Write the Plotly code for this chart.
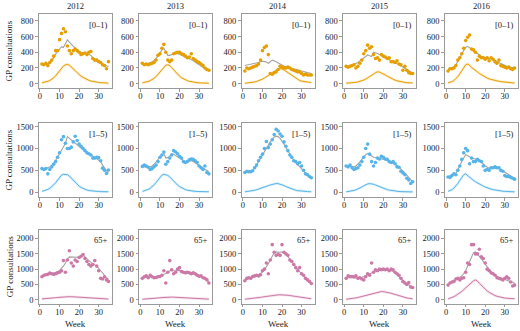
import plotly.graph_objects as go

weeks = list(range(1, 36))
years = ["2012", "2013", "2014", "2015", "2016"]
age_labels = ["[0–1)", "[1–5)", "65+"]
x_ticks = [0, 10, 20, 30]
y_ticks_a = [0, 200, 400, 600, 800]
y_ticks_b = [0, 500, 1000, 1500]
y_ticks_c = [0, 500, 1000, 1500, 2000]

# ---- age [0-1) ----
obs_a_2012 = [250,240,260,230,270,300,350,420,420,560,640,700,660,480,420,380,420,440,420,400,370,380,390,370,400,410,320,300,300,280,270,240,230,190,280]
fit_a_2012 = [235,240,245,255,265,290,330,380,420,440,470,460,520,560,530,500,470,445,425,405,395,390,385,380,375,360,330,310,290,275,260,245,235,225,220]
comp_a_2012 = [10,15,20,30,40,55,75,100,130,160,195,225,240,245,235,215,190,165,140,115,95,80,65,52,42,34,27,22,18,15,12,10,9,8,7]

obs_a_2013 = [260,240,250,240,250,260,270,300,360,380,450,500,400,300,280,300,380,390,400,400,380,370,350,330,340,380,320,300,280,270,250,230,200,180,170]
fit_a_2013 = [250,250,255,260,265,275,295,320,350,390,430,450,400,360,360,370,380,390,385,375,365,355,345,335,325,310,295,275,255,240,225,210,195,185,175]
comp_a_2013 = [10,14,20,28,38,50,68,90,118,150,185,215,235,240,230,205,175,145,120,95,75,60,48,38,30,24,19,15,12,10,8,7,6,5,5]

obs_a_2014 = [160,200,190,200,210,220,230,250,300,420,460,480,370,130,120,140,150,180,220,210,200,200,210,200,180,170,160,150,150,130,110,120,110,110,110]
fit_a_2014 = [230,235,240,245,250,255,260,270,280,285,280,275,260,285,300,290,275,260,245,230,220,210,205,200,195,190,180,175,170,160,150,145,140,135,130]
comp_a_2014 = [5,7,9,12,16,21,28,36,46,58,72,88,105,122,140,156,170,182,190,188,175,158,138,118,98,80,64,50,40,32,26,22,19,17,15]

obs_a_2015 = [220,210,220,230,240,200,220,260,300,380,420,490,450,470,370,320,330,300,370,350,340,320,330,280,280,270,290,250,240,170,220,170,140,130,130]
fit_a_2015 = [215,220,225,235,245,255,270,290,310,330,350,365,355,345,400,395,385,370,355,340,330,320,305,295,285,270,255,240,225,210,190,170,155,145,135]
comp_a_2015 = [5,6,8,10,13,17,22,28,36,46,58,72,88,105,122,140,150,148,138,125,110,95,80,66,54,44,36,29,24,20,16,13,11,9,8]

obs_a_2016 = [160,190,190,200,230,300,330,380,450,550,590,620,440,430,400,300,350,330,330,310,330,290,330,310,280,260,300,230,220,210,200,210,190,180,200]
fit_a_2016 = [180,190,200,215,240,280,330,380,430,460,475,460,440,420,400,380,360,350,340,330,325,320,315,305,295,285,270,255,240,230,220,215,210,205,200]
comp_a_2016 = [10,15,25,40,60,90,125,165,205,240,250,235,205,190,170,150,130,112,96,82,70,60,52,45,39,34,30,26,22,19,16,14,12,10,9]

# ---- age [1-5) ----
obs_b_2012 = [540,520,540,420,520,580,640,700,800,900,1200,1270,1120,1000,1000,1030,1150,1280,1180,1100,1050,1000,950,900,880,850,780,780,800,790,720,550,500,430,510]
fit_b_2012 = [520,530,540,555,575,610,660,730,800,880,960,1040,1120,1270,1230,1190,1150,1110,1080,1050,1010,980,950,920,890,860,830,800,770,740,700,620,550,490,450]
comp_b_2012 = [20,30,45,65,90,125,170,220,280,340,390,410,410,400,370,320,270,220,180,140,110,85,65,50,40,32,26,22,19,17,15,14,13,12,12]

obs_b_2013 = [590,620,600,570,520,540,580,620,700,800,850,920,640,700,780,850,950,920,880,820,780,700,680,700,740,760,750,720,680,600,560,520,600,450,420]
fit_b_2013 = [580,585,585,580,580,600,640,690,750,810,860,880,780,790,820,880,870,840,810,780,750,720,700,710,720,720,700,670,640,610,580,550,520,490,470]
comp_b_2013 = [20,30,45,65,90,125,170,220,280,340,390,410,400,385,350,300,250,205,165,130,100,78,60,47,37,30,25,21,18,16,14,13,12,11,11]

obs_b_2014 = [450,480,470,470,490,560,620,720,800,870,1000,1160,1020,1100,1200,1320,1440,1400,1330,1280,1150,1050,950,850,800,720,700,650,680,600,500,420,400,360,330]
fit_b_2014 = [450,460,470,485,510,560,620,700,780,860,940,1020,1090,1150,1210,1260,1280,1270,1230,1170,1100,1020,940,860,790,730,680,630,580,530,480,430,390,360,330]
comp_b_2014 = [10,14,20,27,35,45,57,70,85,100,117,135,152,168,182,193,200,198,188,172,152,130,110,90,73,58,46,37,30,25,21,18,16,14,12]

obs_b_2015 = [600,580,620,560,520,540,560,620,700,800,1000,1100,870,700,600,680,780,760,820,800,760,750,700,680,700,650,580,570,480,440,400,320,280,200,240]
fit_b_2015 = [600,595,590,585,580,600,640,690,750,810,860,880,860,830,800,790,785,780,775,765,750,730,710,690,665,640,610,575,535,490,440,385,330,280,240]
comp_b_2015 = [10,15,22,30,42,56,74,95,120,148,172,190,198,195,182,165,145,125,106,88,73,60,49,40,33,27,22,18,15,13,11,10,9,8,8]

obs_b_2016 = [350,340,380,420,400,500,600,750,900,1000,950,650,780,700,700,750,720,700,600,500,520,500,560,560,580,560,560,500,480,380,360,360,340,320,300]
fit_b_2016 = [360,370,385,400,430,500,600,700,790,860,840,800,780,770,760,740,720,690,650,600,570,550,550,555,560,555,540,510,480,450,420,390,365,345,330]
comp_b_2016 = [20,35,60,95,140,200,270,340,400,420,380,330,300,270,240,210,185,160,140,120,100,85,72,60,50,42,35,29,24,20,17,14,12,11,10]

# ---- age 65+ ----
obs_c_2012 = [750,800,820,830,870,850,830,850,880,900,950,1280,900,1300,1600,1200,1100,1300,1250,1380,1420,1480,1350,1250,1150,1100,1150,1280,1100,950,700,680,750,650,600]
fit_c_2012 = [780,800,820,840,850,860,870,890,920,960,1020,1100,1200,1330,1400,1400,1390,1380,1390,1410,1440,1450,1400,1330,1270,1220,1180,1150,1100,1030,950,860,780,720,680]
comp_c_2012 = [30,32,35,40,45,52,60,68,76,84,92,98,102,104,104,102,98,93,88,82,76,70,64,58,53,48,44,40,37,34,32,30,28,27,26]

obs_c_2013 = [700,750,780,720,800,750,720,730,750,760,800,950,550,900,1280,980,850,900,1000,1050,920,900,880,900,880,850,880,850,800,770,780,720,700,650,550]
fit_c_2013 = [720,730,740,745,750,750,750,755,760,770,790,830,860,900,950,960,950,940,950,960,940,920,900,890,880,870,860,850,830,800,770,730,690,640,600]
comp_c_2013 = [20,22,25,28,32,37,43,50,57,65,72,79,85,89,90,89,86,82,77,72,67,62,57,52,48,44,40,37,34,31,29,27,25,24,23]

obs_c_2014 = [620,700,720,700,760,780,800,780,820,950,1000,1200,850,1300,1800,1550,1450,1480,1450,1800,1550,1500,1450,1300,1250,1150,1050,950,1050,850,800,700,650,600,530]
fit_c_2014 = [650,670,690,710,730,750,780,820,860,910,980,1070,1180,1300,1430,1540,1560,1550,1550,1560,1540,1490,1420,1340,1250,1160,1070,990,910,840,770,700,640,590,550]
comp_c_2014 = [20,25,30,36,43,51,60,70,81,92,103,114,125,135,144,152,158,162,164,164,161,156,148,139,128,117,105,93,82,71,61,52,44,38,33]

obs_c_2015 = [700,780,760,760,750,780,700,720,680,650,750,850,800,1200,900,980,950,1000,980,1000,980,1000,950,1000,980,900,850,800,700,600,550,500,560,420,400]
fit_c_2015 = [720,725,725,720,715,710,705,710,730,760,790,820,860,900,930,950,965,975,980,985,985,980,970,950,920,880,830,770,700,630,570,520,480,450,430]
comp_c_2015 = [20,25,32,40,50,62,76,92,110,130,150,170,190,210,228,244,258,266,270,268,260,248,232,214,194,173,152,131,111,93,77,63,51,41,33]

obs_c_2016 = [480,550,580,600,680,700,650,700,720,900,1200,1150,1800,1800,1500,1500,1650,1400,1350,1200,1000,950,880,850,800,720,700,680,650,700,750,700,580,450,480]
fit_c_2016 = [500,530,570,610,650,690,730,780,850,950,1100,1250,1400,1540,1560,1500,1420,1330,1240,1150,1060,980,910,850,800,760,730,710,690,670,650,630,600,570,540]
comp_c_2016 = [30,50,75,105,140,180,225,275,330,390,450,510,570,620,650,610,540,470,400,340,290,245,205,170,140,115,95,80,68,58,50,44,40,37,35]

obs_rows = [
    [obs_a_2012, obs_a_2013, obs_a_2014, obs_a_2015, obs_a_2016],
    [obs_b_2012, obs_b_2013, obs_b_2014, obs_b_2015, obs_b_2016],
    [obs_c_2012, obs_c_2013, obs_c_2014, obs_c_2015, obs_c_2016],
]
fit_rows = [
    [fit_a_2012, fit_a_2013, fit_a_2014, fit_a_2015, fit_a_2016],
    [fit_b_2012, fit_b_2013, fit_b_2014, fit_b_2015, fit_b_2016],
    [fit_c_2012, fit_c_2013, fit_c_2014, fit_c_2015, fit_c_2016],
]
comp_rows = [
    [comp_a_2012, comp_a_2013, comp_a_2014, comp_a_2015, comp_a_2016],
    [comp_b_2012, comp_b_2013, comp_b_2014, comp_b_2015, comp_b_2016],
    [comp_c_2012, comp_c_2013, comp_c_2014, comp_c_2015, comp_c_2016],
]
y_ticks_rows = [y_ticks_a, y_ticks_b, y_ticks_c]

# ---- styling / layout geometry ----
W, H = 520, 331
row_colors = ["#E69F00", "#56B4E9", "#CC79A7"]
row_faint = ["rgba(230,159,0,0.22)", "rgba(86,180,233,0.22)", "rgba(204,121,167,0.22)"]
fit_color = "#a3a3a3"
box_color = "#9a9a9a"
font_family = "Liberation Serif, DejaVu Serif, serif"
text_color = "#222222"
fs = 8.5

col_left = [37.7, 138.3, 241.0, 342.5, 444.6]
panel_w = 73.3
row_top = [13.0, 122.7, 230.0]
panel_h = 74.8
y_ranges = [[-59, 888], [-115, 1582], [-135, 2290]]
x_range = [-0.7, 36.7]

fig = go.Figure()
layout_axes = {}
annotations = []

for r in range(3):
    for c in range(5):
        i = r * 5 + c + 1
        xs = "x" if i == 1 else f"x{i}"
        ys = "y" if i == 1 else f"y{i}"
        xname = "xaxis" if i == 1 else f"xaxis{i}"
        yname = "yaxis" if i == 1 else f"yaxis{i}"
        x0 = col_left[c] / W
        x1 = (col_left[c] + panel_w) / W
        y1 = 1 - row_top[r] / H
        y0 = 1 - (row_top[r] + panel_h) / H
        layout_axes[xname] = dict(
            domain=[x0, x1], range=x_range, anchor=ys, tickvals=x_ticks,
            showgrid=False, zeroline=False, showline=True, mirror=True,
            linecolor=box_color, linewidth=1, ticks="outside", ticklen=2.5,
            tickcolor=box_color, ticklabelstandoff=-3,
            tickfont=dict(family=font_family, size=fs, color=text_color),
        )
        layout_axes[yname] = dict(
            domain=[y0, y1], range=y_ranges[r], anchor=xs, tickvals=y_ticks_rows[r],
            showgrid=False, zeroline=False, showline=True, mirror=True,
            linecolor=box_color, linewidth=1, ticks="outside", ticklen=2.5,
            tickcolor=box_color,
            tickfont=dict(family=font_family, size=fs, color=text_color),
        )
        fig.add_trace(go.Scatter(x=weeks, y=comp_rows[r][c], mode="lines",
                                 line=dict(color=row_faint[r], width=2.6),
                                 xaxis=xs, yaxis=ys, showlegend=False, hoverinfo="skip"))
        fig.add_trace(go.Scatter(x=weeks, y=comp_rows[r][c], mode="lines",
                                 line=dict(color=row_colors[r], width=1),
                                 xaxis=xs, yaxis=ys, showlegend=False))
        fig.add_trace(go.Scatter(x=weeks, y=fit_rows[r][c], mode="lines",
                                 line=dict(color=fit_color, width=1.1),
                                 xaxis=xs, yaxis=ys, showlegend=False))
        fig.add_trace(go.Scatter(x=weeks, y=obs_rows[r][c], mode="markers",
                                 marker=dict(color=row_colors[r], size=3.6, line=dict(width=0)),
                                 xaxis=xs, yaxis=ys, showlegend=False))
        annotations.append(dict(
            text=age_labels[r], xref=f"{xs} domain", yref=f"{ys} domain",
            x=0.97, y=0.95, xanchor="right", yanchor="top", showarrow=False,
            font=dict(family=font_family, size=fs, color=text_color)))

for c in range(5):
    cx = (col_left[c] + panel_w / 2) / W
    annotations.append(dict(text=years[c], xref="paper", yref="paper", x=cx, y=1 - 5.5 / H,
                            xanchor="center", yanchor="middle", showarrow=False,
                            font=dict(family=font_family, size=fs, color=text_color)))
    annotations.append(dict(text="Week", xref="paper", yref="paper", x=cx, y=1 - 325 / H,
                            xanchor="center", yanchor="middle", showarrow=False,
                            font=dict(family=font_family, size=9, color=text_color)))

for r in range(3):
    cy = 1 - (row_top[r] + panel_h / 2) / H
    annotations.append(dict(text="GP consultations", xref="paper", yref="paper", x=8.5 / W, y=cy,
                            xanchor="center", yanchor="middle", textangle=-90, showarrow=False,
                            font=dict(family=font_family, size=fs + 0.5, color=text_color)))

fig.update_layout(
    width=W, height=H, margin=dict(l=0, r=0, t=0, b=0),
    paper_bgcolor="white", plot_bgcolor="white",
    annotations=annotations, showlegend=False,
    **layout_axes,
)

fig.write_html("out.html", config={"displayModeBar": False},
               post_script="document.body.style.margin='0';document.body.style.padding='0';")
